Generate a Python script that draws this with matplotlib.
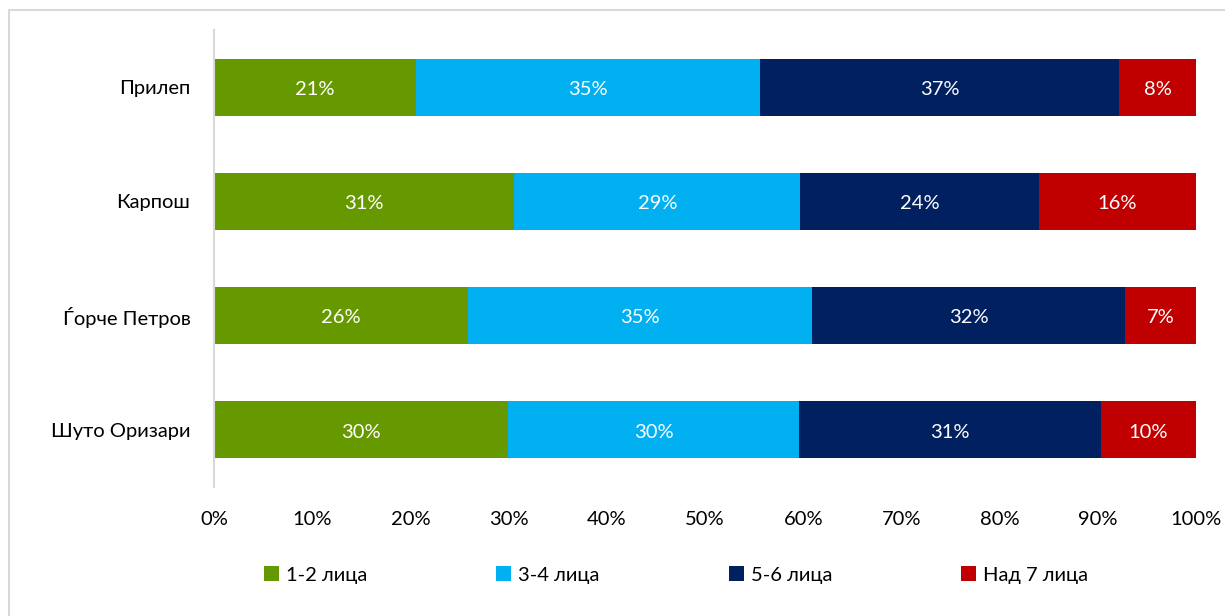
import matplotlib.pyplot as plt
from matplotlib.patches import Rectangle
import numpy as np

plt.rcParams['font.family'] = ['Lato', 'DejaVu Sans']

places = ["Прилеп", "Карпош", "Ѓорче Петров", "Шуто Оризари"]
series = ["1-2 лица", "3-4 лица", "5-6 лица", "Над 7 лица"]
v12 = [20.6, 30.6, 25.9, 29.9]
v34 = [35.0, 29.1, 35.0, 29.7]
v56 = [36.6, 24.3, 31.9, 30.7]
v7 = [7.8, 16.0, 7.2, 9.7]
colors = ["#669900", "#00B0F0", "#002060", "#C00000"]

fs = 14.5
fig = plt.figure(figsize=(12.25, 6.16), dpi=100)
ax = fig.add_axes([214/1225, 1-487/616, (1196-214)/1225, (487-30)/616])

# chart frame
fig.patches.append(Rectangle((9/1225, -0.1), 1.2, 1-10/616+0.1, transform=fig.transFigure,
                             fill=False, edgecolor="#D9D9D9", linewidth=1.5))

y = np.arange(len(places))
left = np.zeros(len(places))
for name, vals, c in zip(series, [v12, v34, v56, v7], colors):
    bars = ax.barh(y, vals, left=left, height=0.5, color=c, label=name)
    for b, v in zip(bars, vals):
        ax.text(b.get_x() + b.get_width()/2, b.get_y() + b.get_height()/2 + 0.02,
                f"{v:.0f}%", ha="center", va="center", color="white", fontsize=fs)
    left += np.array(vals)

ax.set_ylim(len(places) - 0.5, -0.5)
ax.set_xlim(0, 100)
ax.set_yticks(y)
ax.set_yticklabels(places, fontsize=fs)
ax.set_xticks(np.arange(0, 101, 10))
ax.set_xticklabels([f"{t}%" for t in range(0, 101, 10)], fontsize=fs)
ax.tick_params(length=0)
ax.tick_params(axis="y", pad=17)
ax.tick_params(axis="x", pad=17)
for s in ["top", "right", "bottom"]:
    ax.spines[s].set_visible(False)
ax.spines["left"].set_color("#D9D9D9")
ax.spines["left"].set_linewidth(1.5)

fig.legend(loc="center", bbox_to_anchor=(676/1225, 1-575/616), ncol=4, frameon=False,
           fontsize=fs, handlelength=0.75, handleheight=0.75, handletextpad=0.35,
           columnspacing=6.4)

fig.savefig("out.png", dpi=100)
